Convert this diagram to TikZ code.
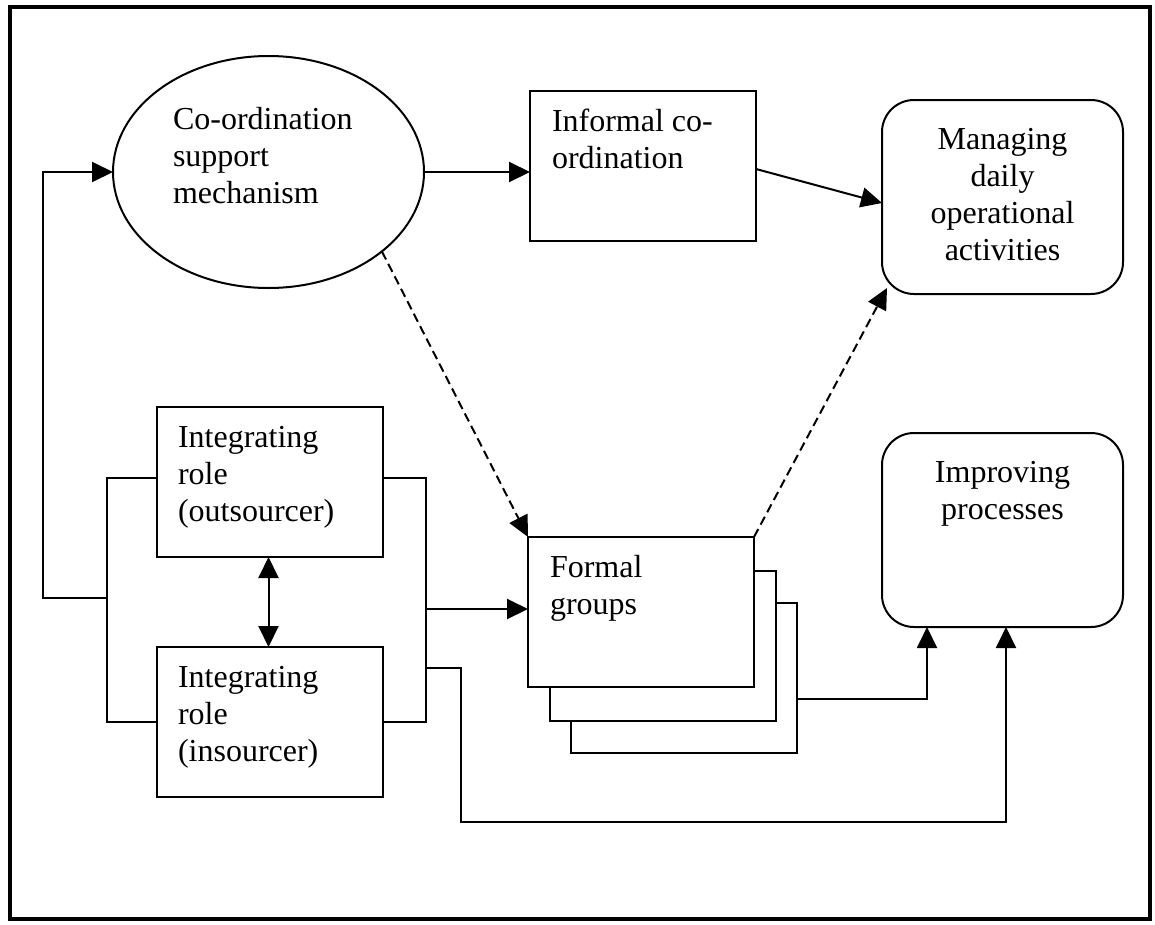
\documentclass[tikz,border=0pt]{standalone}
\usepackage{fontspec}
\setmainfont{Liberation Serif}
\usetikzlibrary{shapes.geometric,arrows.meta,calc}
\begin{document}
\begin{tikzpicture}[x=1pt,y=-1pt,
  every node/.style={inner sep=0pt, outer sep=0pt},
  shapeline/.style={draw=black, line width=2pt},
  plainbox/.style={shapeline, rectangle, fill=white, minimum width=226pt, minimum height=150pt, anchor=north west},
  roundbox/.style={shapeline, rectangle, rounded corners=32pt, minimum width=241pt, minimum height=194pt, anchor=north west},
  oval/.style={shapeline, ellipse, minimum width=311pt, minimum height=232pt},
  txt/.style={font=\fontsize{32pt}{37pt}\selectfont},
  conn/.style={line width=2pt},
  arr/.style={conn, -{Triangle[length=21pt,width=20pt]}},
  dasharr/.style={arr, dash pattern=on 9pt off 5pt},
]
\useasboundingbox (0,0) rectangle (1155,924);
% frame
\draw[line width=4pt] (9.5,7) rectangle (1150,919);

% shapes
\node[oval] (coord) at (268.5,172) {};
\node[plainbox] (informal) at (530,91) {};
\node[roundbox] (manage) at (882,100) {};
\node[plainbox] (outs) at (157,407) {};
\node[plainbox] (ins) at (157,647) {};
\node[plainbox] (formal3) at (571,603) {};
\node[plainbox] (formal2) at (550,571) {};
\node[plainbox] (formal) at (528,537) {};
\node[roundbox] (improve) at (882,433) {};

% texts
\node[txt, anchor=base west] (tcoord) at (173,129) {\parbox[t]{220pt}{\raggedright Co-ordination\\support\\mechanism}};
\node[txt, anchor=base west] (tinformal) at (552,131) {\parbox[t]{200pt}{\raggedright Informal co-\\ordination}};
\node[txt, anchor=base] (tmanage) at (1002.5,149) {\parbox[t]{220pt}{\centering Managing\\daily\\operational\\activities}};
\node[txt, anchor=base west] (touts) at (178,447) {\parbox[t]{200pt}{\raggedright Integrating\\role\\(outsourcer)}};
\node[txt, anchor=base west] (tins) at (178,687) {\parbox[t]{200pt}{\raggedright Integrating\\role\\(insourcer)}};
\node[txt, anchor=base west] (tformal) at (550,577) {\parbox[t]{200pt}{\raggedright Formal\\groups}};
\node[txt, anchor=base] (timprove) at (1002.5,482) {\parbox[t]{220pt}{\centering Improving\\processes}};

% bus points of the elbow connectors
\coordinate (leftbus) at (107,598);
\coordinate (outerbus) at (43,598);
\coordinate (rightbus) at (426,609);
\coordinate (busbranch) at (426,668);
\coordinate (lowbus) at (461,822);

% top row
\draw[arr] (coord.east) -- (informal.west |- coord.east);
\draw[arr] ([yshift=-3pt]informal.east) -- ([yshift=-6pt]manage.west);
\draw[dasharr] (coord.-35) -- (formal.north west);
\draw[dasharr] (formal.north east) -- ([xshift=5pt,yshift=6pt]manage.south west);

% integrating roles
\draw[conn] ([yshift=4.5pt]outs.west) -| (leftbus) |- (ins.west);
\draw[arr] (leftbus) -- (outerbus) |- (coord.west);
\draw[conn] ([yshift=4.5pt]outs.east) -| (rightbus) |- (ins.east);
\draw[arr] (rightbus) -- (formal.west |- rightbus);
\draw[conn, {Triangle[length=21pt,width=20pt]}-{Triangle[length=21pt,width=20pt]}] ([xshift=-1.5pt]outs.south) -- ([xshift=-1.5pt]ins.north);

% towards improving processes
\draw[arr] (busbranch) -| (lowbus) -| ([xshift=3.5pt]improve.south);
\draw[arr] ($(formal3.north east)+(0,96)$) -| ($(improve.south west)+(45,0)$);
\end{tikzpicture}
\end{document}
